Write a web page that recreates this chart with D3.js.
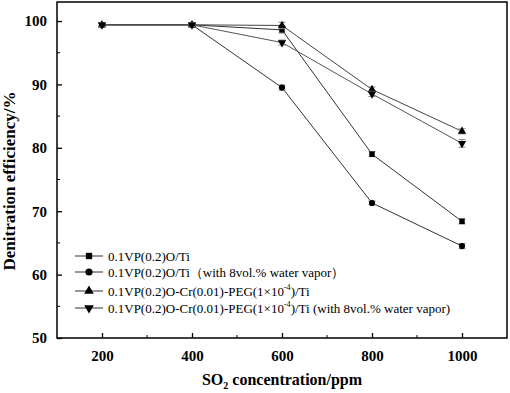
<!DOCTYPE html>
<html>
<head>
<meta charset="utf-8">
<script src="https://cdn.jsdelivr.net/npm/d3@7"></script>
<style>
body { margin: 0; background: #fff; }
svg text { font-family: "Liberation Serif", "Times New Roman", serif; }
</style>
</head>
<body>
<div id="chart"></div>
<script>
var conc = [200, 400, 600, 800, 1000];
var s1 = [99.4, 99.4, 98.6, 79.0, 68.4];   // 0.1VP(0.2)O/Ti
var s2 = [99.4, 99.4, 89.5, 71.3, 64.5];   // with water vapor
var s3 = [99.4, 99.4, 99.3, 89.2, 82.6];   // Cr-PEG
var s4 = [99.4, 99.4, 96.6, 88.5, 80.7];   // Cr-PEG with water vapor
var err1 = [0.3, 0.3, 0.5, 0.4, 0.4];
var err2 = [0.3, 0.3, 0.4, 0.3, 0.4];
var err3 = [0.3, 0.3, 0.5, 0.4, 0.4];
var err4 = [0.3, 0.3, 0.4, 0.4, 0.6];
var xTicks = [200, 400, 600, 800, 1000];
var yTicks = [50, 60, 70, 80, 90, 100];

var w = 510, h = 393;
var padL = 57, padR = 507, padT = 2, padB = 338;

var x = d3.scaleLinear().domain([100, 1100]).range([padL, padR]);
var y = d3.scaleLinear().domain([50, 103]).range([padB, padT]);

var svg = d3.select("#chart").append("svg")
    .attr("width", w).attr("height", h);

// minor ticks
var minorX = d3.range(300, 1000, 200);
svg.append("g").selectAll("line").data(minorX).enter().append("line")
    .attr("x1", function(d) { return x(d); }).attr("x2", function(d) { return x(d); })
    .attr("y1", padB).attr("y2", padB - 3)
    .attr("stroke", "#000").attr("stroke-width", 1);
var minorY = d3.range(55, 100, 10);
svg.append("g").selectAll("line").data(minorY).enter().append("line")
    .attr("y1", function(d) { return y(d); }).attr("y2", function(d) { return y(d); })
    .attr("x1", padL).attr("x2", padL + 3)
    .attr("stroke", "#000").attr("stroke-width", 1);

var xAxis = d3.axisBottom(x).tickValues(xTicks).tickFormat(d3.format("d"))
    .tickSizeInner(-5).tickSizeOuter(0).tickPadding(12);
var yAxis = d3.axisLeft(y).tickValues(yTicks).tickFormat(d3.format("d"))
    .tickSizeInner(-5).tickSizeOuter(0).tickPadding(10);

var gx = svg.append("g").attr("transform", "translate(0," + padB + ")").call(xAxis);
var gy = svg.append("g").attr("transform", "translate(" + padL + ",0)").call(yAxis);
[gx, gy].forEach(function(g) {
    g.select(".domain").remove();
    g.selectAll("line").attr("stroke-width", 1.3);
    g.selectAll("text").attr("font-size", 15).attr("font-weight", "bold")
        .attr("font-family", "Liberation Serif").attr("fill", "#000");
});

// frame
svg.append("rect").attr("x", padL).attr("y", padT)
    .attr("width", padR - padL).attr("height", padB - padT)
    .attr("fill", "none").attr("stroke", "#000").attr("stroke-width", 1.5);

var series = [
    { vals: s1, err: err1, sym: d3.symbolSquare, size: 30, color: "#333" },
    { vals: s2, err: err2, sym: d3.symbolCircle, size: 30, color: "#333" },
    { vals: s3, err: err3, sym: d3.symbolTriangle, size: 30, color: "#444" },
    { vals: s4, err: err4, sym: d3.symbolTriangle, size: 30, color: "#555", flip: true }
];

var line = d3.line()
    .x(function(d) { return x(d[0]); })
    .y(function(d) { return y(d[1]); });

series.forEach(function(s) {
    var pts = conc.map(function(c, i) { return [c, s.vals[i], s.err[i]]; });
    svg.append("path").datum(pts).attr("d", line)
        .attr("fill", "none").attr("stroke", s.color).attr("stroke-width", 1);
});

series.forEach(function(s) {
    var pts = conc.map(function(c, i) { return [c, s.vals[i], s.err[i]]; });
    var g = svg.append("g");
    var eb = g.selectAll(".eb").data(pts).enter().append("g");
    eb.append("line")
        .attr("x1", function(d) { return x(d[0]); }).attr("x2", function(d) { return x(d[0]); })
        .attr("y1", function(d) { return y(d[1] - d[2]); }).attr("y2", function(d) { return y(d[1] + d[2]); })
        .attr("stroke", "#888").attr("stroke-width", 1);
    [1, -1].forEach(function(sg) {
        eb.append("line")
            .attr("x1", function(d) { return x(d[0]) - 3.5; }).attr("x2", function(d) { return x(d[0]) + 3.5; })
            .attr("y1", function(d) { return y(d[1] + sg * d[2]); }).attr("y2", function(d) { return y(d[1] + sg * d[2]); })
            .attr("stroke", "#888").attr("stroke-width", 1);
    });
    g.selectAll("path").data(pts).enter().append("path")
        .attr("d", d3.symbol().type(s.sym).size(s.size))
        .attr("transform", function(d) {
            return "translate(" + x(d[0]) + "," + y(d[1]) + ")" + (s.flip ? " rotate(180)" : "");
        })
        .attr("fill", "#000");
});

// legend
var legY = [256, 272, 291, 308];
var legText = [
    ["0.1VP(0.2)O/Ti"],
    ["0.1VP(0.2)O/Ti\uff08with 8vol.% water vapor\uff09"],
    ["0.1VP(0.2)O-Cr(0.01)-PEG(1\u00d710", "-4", ")/Ti"],
    ["0.1VP(0.2)O-Cr(0.01)-PEG(1\u00d710", "-4", ")/Ti (with 8vol.% water vapor)"]
];
series.forEach(function(s, i) {
    var ly = legY[i];
    svg.append("line").attr("x1", 75).attr("x2", 103).attr("y1", ly).attr("y2", ly)
        .attr("stroke", "#333").attr("stroke-width", 1);
    svg.append("path").attr("d", d3.symbol().type(s.sym).size(40)())
        .attr("transform", "translate(89," + ly + ")" + (s.flip ? " rotate(180)" : ""))
        .attr("fill", "#000");
    var t = svg.append("text").attr("x", 108).attr("y", ly + 4.5)
        .attr("font-size", 13).attr("fill", "#000");
    var parts = legText[i];
    t.append("tspan").text(parts[0]);
    if (parts.length > 1) {
        t.append("tspan").attr("dy", -6).attr("font-size", 8).text(parts[1]);
        t.append("tspan").attr("dy", 6).text(parts[2]);
    }
});

// axis titles
var xl = svg.append("text").attr("x", (padL + padR) / 2).attr("y", 385)
    .attr("text-anchor", "middle").attr("font-size", 16).attr("font-weight", "bold");
xl.append("tspan").text("SO");
xl.append("tspan").attr("dy", 4).attr("font-size", 10).text("2");
xl.append("tspan").attr("dy", -4).text(" concentration/ppm");

svg.append("text")
    .attr("transform", "translate(15,181) rotate(-90)")
    .attr("text-anchor", "middle").attr("font-size", 17).attr("font-weight", "bold")
    .text("Denitration efficiency/%");
</script>
</body>
</html>
